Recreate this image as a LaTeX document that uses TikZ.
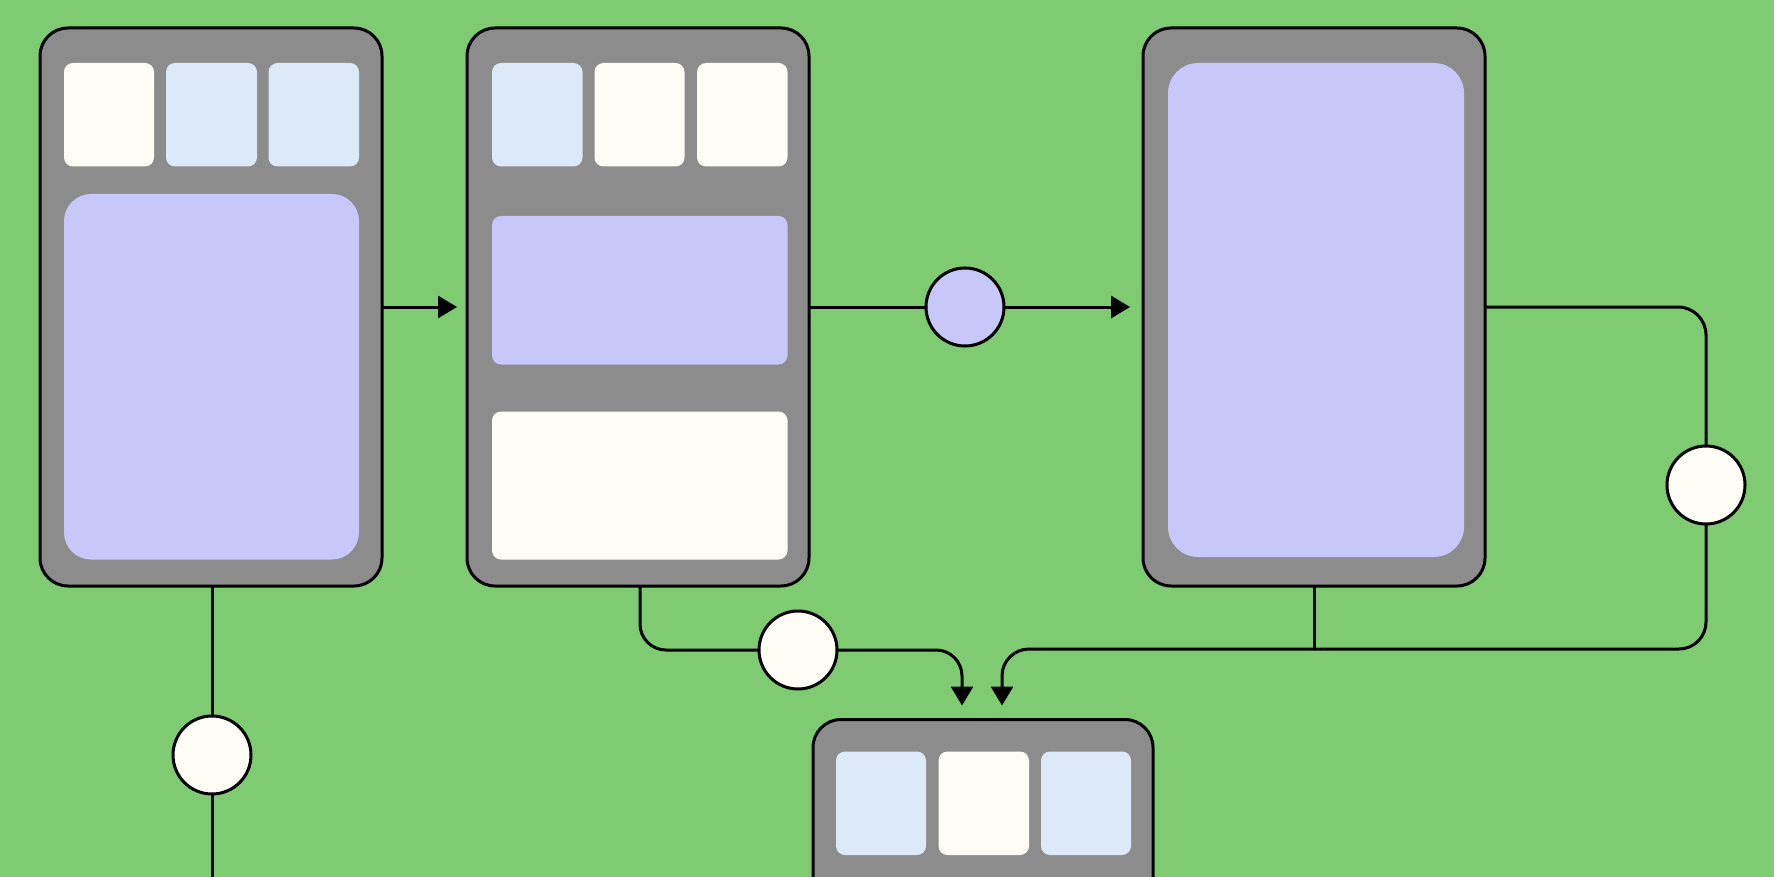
\documentclass[tikz,border=0pt]{standalone}
\usetikzlibrary{arrows.meta,calc}
\definecolor{bgreen}{RGB}{126,203,114}
\definecolor{boxgray}{RGB}{140,140,140}
\definecolor{lav}{RGB}{199,199,249}
\definecolor{lblue}{RGB}{219,233,249}
\definecolor{cream}{RGB}{253,253,246}
\tikzset{
  outerbox/.style={draw=black, line width=3pt, fill=boxgray, rounded corners=28pt, inner sep=0pt, outer sep=0pt, minimum width=342pt, minimum height=558pt},
  conn/.style={draw=black, line width=3pt},
  tip/.style={-{Triangle[length=19pt,width=22pt]}},
  ring/.style={circle, draw=black, line width=3pt, minimum size=78pt, inner sep=0pt, outer sep=0pt},
  panel/.style={rounded corners=#1},
  panel/.default=9pt
}
\begin{document}
\begin{tikzpicture}[x=1pt,y=-1pt]
\useasboundingbox (0,0) rectangle (1774,877);
\clip (0,0) rectangle (1774,877);
\fill[bgreen] (0,0) rectangle (1774,877);

% outer boxes
\node[outerbox] (b1) at (211,307) {};
\node[outerbox] (b2) at (638,307) {};
\node[outerbox] (b3) at (1314,307) {};
\node[outerbox, minimum width=340pt] (b4) at (983,998.5) {};

% box 1 panels
\fill[cream, panel] (64,63) rectangle (154,166.5);
\fill[lblue, panel] (166,63) rectangle (257,166.5);
\fill[lblue, panel] (268.5,63) rectangle (359,166.5);
\fill[lav, panel=27pt] (64,194) rectangle (359,559.5);

% box 2 panels
\fill[lblue, panel] (492,63) rectangle (582.5,166.5);
\fill[cream, panel] (594.5,63) rectangle (684.5,166.5);
\fill[cream, panel] (697,63) rectangle (787.5,166.5);
\fill[lav, panel] (492,216) rectangle (787.5,364.5);
\fill[cream, panel] (492,411.5) rectangle (787.5,559.5);

% box 3 panel
\fill[lav, panel=30pt] (1168,63) rectangle (1464,557);

% box 4 panels
\fill[lblue, panel] (836,751.5) rectangle (926,855);
\fill[cream, panel] (938.5,751.5) rectangle (1029,855);
\fill[lblue, panel] (1041,751.5) rectangle (1131,855);

% circles
\node[ring, fill=lav] (c1) at (965,307) {};
\node[ring, fill=cream] (c2) at (1706,485) {};
\node[ring, fill=cream] (c3) at (798,650) {};
\node[ring, fill=cream] (c4) at (212,755) {};

% helper coordinates
\coordinate (a1) at ($(b4.north)+(-21,0)$);
\coordinate (a2) at ($(b4.north)+(19,0)$);
\coordinate (hl) at (0,649);
\coordinate (bot) at (212,890);
\coordinate (b2o) at ($(b2.south)+(2,0)$);

% connectors
\draw[conn, tip, shorten >=10pt] (b1.east) -- (b2.west);
\draw[conn] (b2.east) -- (c1.west);
\draw[conn, tip, shorten >=13pt] (c1.east) -- (b3.west);
\draw[conn, rounded corners=28pt] (b3.east) -| (c2.north);
\draw[conn, rounded corners=27pt, tip, shorten >=14pt] (c2.south) |- (a2 |- hl) -- (a2);
\draw[conn] (b3.south) -- (b3.south |- hl);
\draw[conn, rounded corners=26pt] (b2o) |- (c3.west);
\draw[conn, rounded corners=26pt, tip, shorten >=14pt] (c3.east) -| (a1);
\draw[conn] (b1.south -| c4) -- (c4.north);
\draw[conn] (c4.south) -- (bot);
\end{tikzpicture}
\end{document}
